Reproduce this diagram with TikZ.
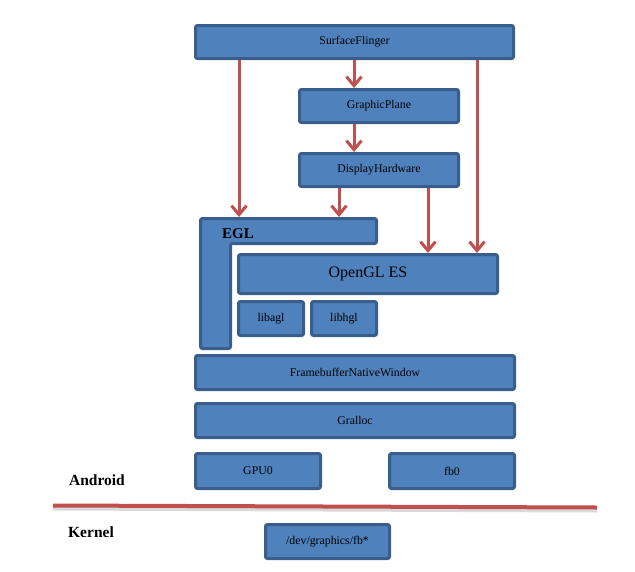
\documentclass[tikz,border=0pt]{standalone}
\usepackage{fontspec}
\setmainfont{Liberation Serif}
\usetikzlibrary{arrows.meta}
\definecolor{boxblue}{HTML}{4F81BD}
\definecolor{boxedge}{HTML}{3A5E8C}
\definecolor{arrred}{HTML}{C0504D}

\begin{document}
\begin{tikzpicture}[x=1pt,y=-1pt,
  box/.style={draw=boxedge,fill=boxblue,line width=3pt,rounded corners=2pt,
    inner sep=0pt,font=\fontsize{11.8}{13}\selectfont},
  arr/.style={draw=arrred,line width=3pt,-{Straight Barb[length=9pt,width=15pt]}},
  lbl/.style={font=\fontsize{15.5}{18}\selectfont\bfseries}]
\useasboundingbox (0,0) rectangle (635,571);

\node [box,minimum width=318pt,minimum height=33pt] (sf) at (354.5,42) {SurfaceFlinger};
\node [box,minimum width=159pt,minimum height=33pt] (gp) at (379,106) {GraphicPlane};
\node [box,minimum width=159pt,minimum height=33pt] (dh) at (379,170) {DisplayHardware};

% EGL
\draw [draw=boxedge,fill=boxblue,line width=3pt,rounded corners=2pt]
  (200.5,218.5) -- (376.5,218.5) -- (376.5,243.5) -- (230.5,243.5)
  -- (230.5,348.5) -- (200.5,348.5) -- cycle;
\coordinate (egl) at (288.5,217);
\node [font=\fontsize{15}{18}\selectfont\bfseries] (egllbl) at (238,234) {EGL};

\node [box,minimum width=259pt,minimum height=39pt,font=\fontsize{16}{19}\selectfont] (ogl) at (368,274) {OpenGL ES};
\node [box,minimum width=65pt,minimum height=34pt] (agl) at (271,318.5) {libagl};
\node [box,minimum width=65pt,minimum height=34pt] (hgl) at (344,318.5) {libhgl};

\node [box,minimum width=319pt,minimum height=34pt] (fnw) at (355,372.5) {FramebufferNativeWindow};
\node [box,minimum width=319pt,minimum height=34pt] (gralloc) at (355,420.5) {Gralloc};
\node [box,minimum width=125pt,minimum height=35pt] (gpu) at (258,471) {GPU0};
\node [box,minimum width=125pt,minimum height=35pt] (fb) at (452,471) {fb0};
\node [box,minimum width=124pt,minimum height=34pt] (dev) at (327.5,541.5) {/dev/graphics/fb*};

% arrows
\coordinate (c1) at (239,0);
\coordinate (c2) at (354,0);
\coordinate (c3) at (477,0);
\coordinate (c4) at (339,0);
\coordinate (c5) at (428,0);
\draw [arr] (sf.south -| c1) -- (egl -| c1);
\draw [arr] (sf.south -| c2) -- (gp.north -| c2);
\draw [arr] (sf.south -| c3) -- (ogl.north -| c3);
\draw [arr] (gp.south -| c2) -- (dh.north -| c2);
\draw [arr] (dh.south -| c4) -- (egl -| c4);
\draw [arr] (dh.south -| c5) -- (ogl.north -| c5);

% android / kernel
\coordinate (sepl) at (53,505.5);
\coordinate (sepr) at (597,507.5);
\draw [black!25,line width=4pt,opacity=0.6] ([yshift=-3pt]sepl) -- ([yshift=-3pt]sepr);
\draw [arrred,line width=4pt] (sepl) -- (sepr);
\node [lbl] (android) at (97,480) {Android};
\node [lbl] (kernel) at (91,532) {Kernel};
\end{tikzpicture}
\end{document}
